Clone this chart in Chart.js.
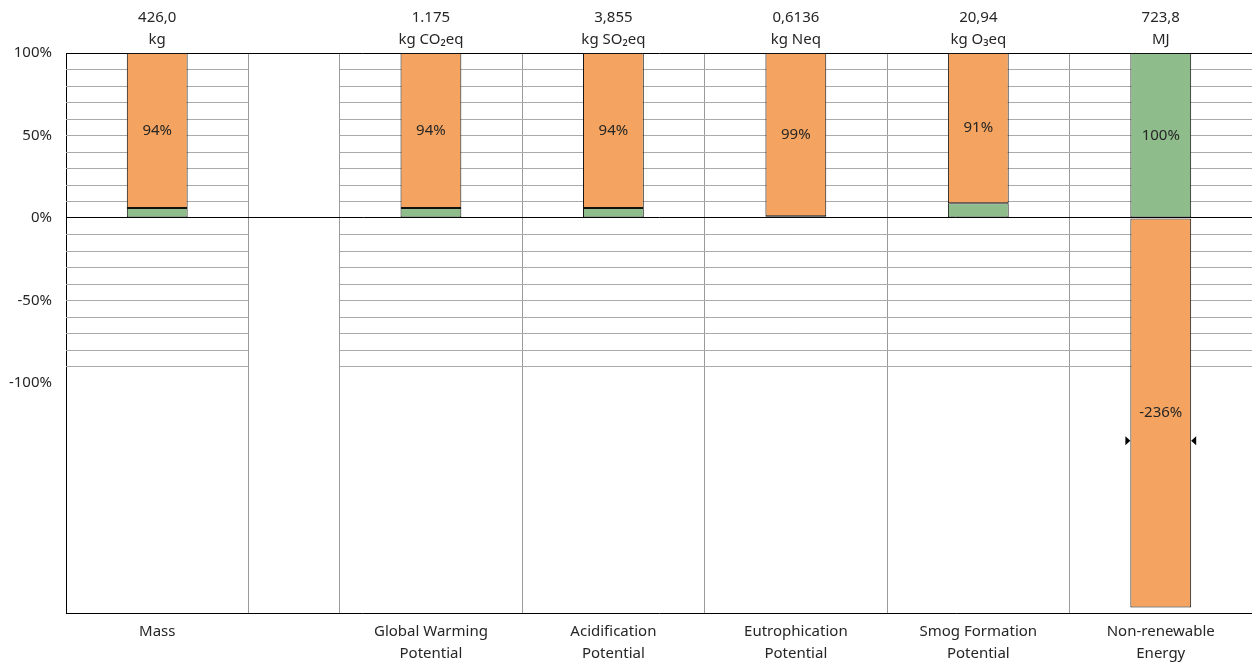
<!DOCTYPE html>
<html>
<head>
<meta charset="utf-8">
<script src="https://cdn.jsdelivr.net/npm/chart.js@4/dist/chart.umd.min.js"></script>
<style>
  html, body { margin: 0; padding: 0; background: #ffffff; }
  #wrap { width: 1252px; height: 666px; }
</style>
</head>
<body>
<div id="wrap"><canvas id="c" width="1252" height="666"></canvas></div>
<script>
// ---- data ----
const categories = [
  ['Mass'],
  ['Global Warming', 'Potential'],
  ['Acidification', 'Potential'],
  ['Eutrophication', 'Potential'],
  ['Smog Formation', 'Potential'],
  ['Non-renewable', 'Energy']
];
const totals = ['426,0', '1.175', '3,855', '0,6136', '20,94', '723,8'];
const units = ['kg', 'kg CO\u2082eq', 'kg SO\u2082eq', 'kg Neq', 'kg O\u2083eq', 'MJ'];
const greenShare = [6, 6, 6, 1, 9, 100];
const orangeShare = [94, 94, 94, 99, 91, -236];
const markerValue = [null, null, null, null, null, -135];
const yTickValues = [-100, -50, 0, 50, 100];

// ---- layout helpers (spacer column after the first category) ----
const GAP_AFTER = 0, GAP_WIDTH = 0.5;
const slot = i => i + 0.5 + (i > GAP_AFTER ? GAP_WIDTH : 0);
const X_MAX = categories.length + GAP_WIDTH;
const slots = categories.map((_, i) => slot(i));
const gapStart = slot(GAP_AFTER) + 0.5, gapEnd = gapStart + GAP_WIDTH;
const boundaries = [];
for (let i = 0; i < categories.length - 1; i++) {
  boundaries.push(slot(i) + 0.5);
  if (i === GAP_AFTER) boundaries.push(gapEnd);
}

const TEXT = '#262626';
Chart.defaults.font.family = "'Noto Sans', 'Open Sans', sans-serif";
Chart.defaults.font.size = 15;
Chart.defaults.color = TEXT;

const segGrid = {
  id: 'segGrid',
  beforeDatasetsDraw(chart) {
    const {ctx, chartArea} = chart;
    const ys = chart.scales.y, xs = chart.scales.x;
    const g0 = xs.getPixelForValue(gapStart), g1 = xs.getPixelForValue(gapEnd);
    ctx.save();
    ctx.strokeStyle = '#aaaaaa';
    ctx.lineWidth = 1;
    for (let v = -90; v <= 90; v += 10) {
      if (v === 0) continue;
      const y = Math.round(ys.getPixelForValue(v)) + 0.5;
      ctx.beginPath();
      ctx.moveTo(chartArea.left, y); ctx.lineTo(g0, y);
      ctx.moveTo(g1, y); ctx.lineTo(chartArea.right, y);
      ctx.stroke();
    }
    ctx.restore();
  }
};

const barLabels = {
  id: 'barLabels',
  afterDatasetsDraw(chart) {
    const {ctx} = chart;
    ctx.save();
    ctx.font = "15px 'Noto Sans', sans-serif";
    ctx.fillStyle = TEXT;
    ctx.textAlign = 'center';
    ctx.textBaseline = 'middle';
    chart.data.datasets.forEach((ds, di) => {
      const meta = chart.getDatasetMeta(di);
      meta.data.forEach((el, i) => {
        const v = ds.data[i].y;
        if (Math.abs(v) < 50) return;
        ctx.fillText(Math.round(v) + '%', el.x, (el.y + el.base) / 2);
      });
    });
    // edge markers
    const ys = chart.scales.y;
    const meta = chart.getDatasetMeta(1);
    markerValue.forEach((mv, i) => {
      if (mv === null) return;
      const el = meta.data[i];
      const y = ys.getPixelForValue(mv);
      const l = el.x - el.width / 2, r = el.x + el.width / 2;
      ctx.fillStyle = '#000';
      ctx.beginPath();
      ctx.moveTo(l, y); ctx.lineTo(l - 5, y - 4.5); ctx.lineTo(l - 5, y + 4.5); ctx.closePath(); ctx.fill();
      ctx.beginPath();
      ctx.moveTo(r, y); ctx.lineTo(r + 5, y - 4.5); ctx.lineTo(r + 5, y + 4.5); ctx.closePath(); ctx.fill();
    });
    ctx.restore();
  }
};

new Chart(document.getElementById('c'), {
  type: 'bar',
  data: {
    datasets: [
      {
        label: 'green',
        data: greenShare.map((v, i) => ({x: slots[i], y: v})),
        backgroundColor: '#8FBC8B',
        borderColor: '#111111',
        borderWidth: 1,
        borderSkipped: false,
        categoryPercentage: 1,
        barPercentage: 1 / 3
      },
      {
        label: 'orange',
        data: orangeShare.map((v, i) => ({x: slots[i], y: v})),
        backgroundColor: '#F4A460',
        borderColor: '#111111',
        borderWidth: 1,
        borderSkipped: false,
        categoryPercentage: 1,
        barPercentage: 1 / 3
      }
    ]
  },
  options: {
    responsive: false,
    animation: false,
    layout: { padding: 0 },
    plugins: { legend: { display: false }, tooltip: { enabled: false } },
    scales: {
      x: {
        type: 'linear', position: 'bottom', stacked: true, offset: false,
        min: 0, max: X_MAX,
        afterBuildTicks: s => { s.ticks = slots.map(v => ({value: v})); },
        afterFit: s => { s.height = 53; },
        grid: { display: false, drawTicks: false, offset: false },
        border: { display: true, color: '#000', width: 1 },
        ticks: {
          autoSkip: false, maxRotation: 0, padding: 8,
          font: { size: 15, lineHeight: 1.47 },
          callback: (v, i) => categories[i]
        }
      },
      xGrid: {
        type: 'linear', position: 'bottom', offset: false,
        min: 0, max: X_MAX,
        afterBuildTicks: s => { s.ticks = boundaries.map(v => ({value: v})); },
        afterFit: s => { s.height = 0; },
        grid: { display: true, offset: false, drawTicks: false, color: '#9a9a9a', lineWidth: 1 },
        border: { display: false },
        ticks: { display: false }
      },
      x2: {
        type: 'linear', position: 'top', offset: false,
        min: 0, max: X_MAX,
        afterBuildTicks: s => { s.ticks = slots.map(v => ({value: v})); },
        afterFit: s => { s.height = 53; },
        grid: { display: false, offset: false, drawTicks: false },
        border: { display: true, color: '#000', width: 1 },
        ticks: {
          autoSkip: false, maxRotation: 0, padding: 2,
          font: { size: 15, lineHeight: 1.47 },
          callback: (v, i) => [totals[i], units[i]]
        }
      },
      y: {
        type: 'linear', stacked: true,
        min: -239.4, max: 100,
        afterBuildTicks: s => { s.ticks = yTickValues.map(v => ({value: v})); },
        afterFit: s => { s.width = 66; },
        grid: {
          drawTicks: false,
          color: c => (c.tick && c.tick.value === 0 ? '#000' : 'rgba(0,0,0,0)'),
          lineWidth: 1
        },
        border: { display: true, color: '#000', width: 1 },
        ticks: { padding: 14, callback: v => v + '%' }
      }
    }
  },
  plugins: [segGrid, barLabels]
});
</script>
</body>
</html>
